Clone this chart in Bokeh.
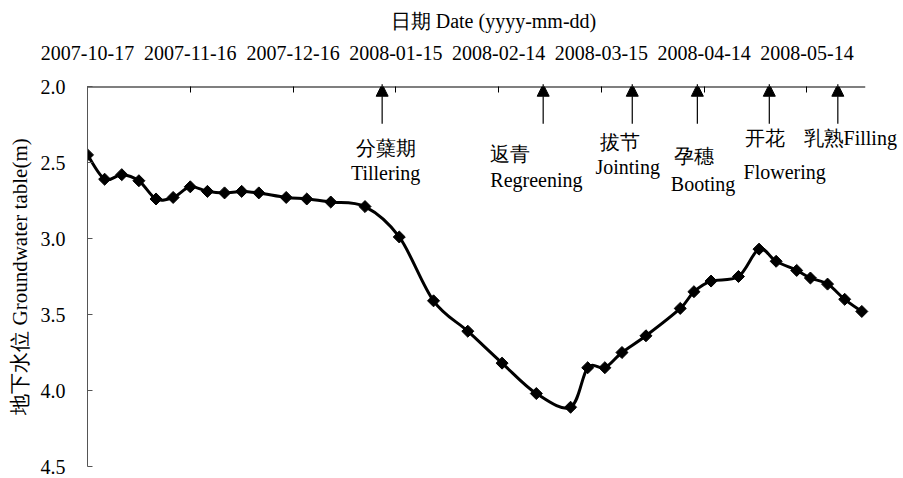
import numpy as np
import pandas as pd
from math import pi
from bokeh.plotting import figure
from bokeh.models import (FixedTicker, DatetimeTickFormatter, NumeralTickFormatter,
                          Range1d, Arrow, NormalHead, Label)
from bokeh.embed import file_html
from bokeh.resources import INLINE

# ---------------- data ----------------
dates = ["2007-10-17", "2007-10-22", "2007-10-27", "2007-11-01", "2007-11-06",
         "2007-11-11", "2007-11-16", "2007-11-21", "2007-11-26", "2007-12-01",
         "2007-12-06", "2007-12-14", "2007-12-20", "2007-12-27", "2008-01-06",
         "2008-01-16", "2008-01-26", "2008-02-05", "2008-02-15", "2008-02-25",
         "2008-03-06", "2008-03-11", "2008-03-16", "2008-03-21", "2008-03-28",
         "2008-04-07", "2008-04-11", "2008-04-16", "2008-04-24", "2008-04-30",
         "2008-05-05", "2008-05-11", "2008-05-15", "2008-05-20", "2008-05-25",
         "2008-05-30"]
depth = [2.45, 2.61, 2.58, 2.62, 2.74,
         2.73, 2.66, 2.69, 2.70, 2.69,
         2.70, 2.73, 2.74, 2.76, 2.79,
         2.99, 3.41, 3.61, 3.82, 4.02,
         4.11, 3.85, 3.85, 3.75, 3.64,
         3.46, 3.35, 3.28, 3.25, 3.07,
         3.15, 3.21, 3.26, 3.30, 3.40,
         3.48]
x_tick_dates = ["2007-10-17", "2007-11-16", "2007-12-16", "2008-01-15",
                "2008-02-14", "2008-03-15", "2008-04-14", "2008-05-14"]
y_ticks = [2.0, 2.5, 3.0, 3.5, 4.0, 4.5]
x_start, x_axis_end = "2007-10-17", "2008-05-31"
stage_dates = ["2008-01-11", "2008-02-27", "2008-03-24", "2008-04-12",
               "2008-05-03", "2008-05-23"]
stage_cn = ["分蘖期", "返青", "拔节", "孕穗", "开花", "乳熟"]
stage_en = ["Tillering", "Regreening", "Jointing", "Booting", "Flowering", "Filling"]
title_x = "日期 Date (yyyy-mm-dd)"
title_y = "地下水位 Groundwater table(m)"

# ---------------- layout (positions only) ----------------
view_end = "2008-06-10"   # room to the right for the last stage label
label_layout = [
    ("2008-01-12", 2.405, "2008-01-12", 2.572, "center"),
    ("2008-02-11 14:00", 2.447, "2008-02-11 14:00", 2.615, "left"),
    ("2008-03-14 12:00", 2.368, "2008-03-13 06:00", 2.530, "left"),
    ("2008-04-05 06:00", 2.458, "2008-04-04 06:00", 2.640, "left"),
    ("2008-04-26", 2.342, "2008-04-25 12:00", 2.563, "left"),
    ("2008-05-13", 2.342, None, None, "left"),
]

SERIF = "Liberation Serif"
FS = "20px"


def ms(d):
    return pd.Timestamp(d).value / 1e6


xs = np.array([ms(d) for d in dates])
ys = np.array(depth, dtype=float)

p = figure(width=902, height=476, output_backend="svg", toolbar_location=None,
           x_axis_type="datetime", x_axis_location="above",
           x_range=Range1d(ms(x_start), ms(view_end)),
           y_range=Range1d(4.5, 2.0),
           min_border_left=87, min_border_right=3,
           min_border_top=86, min_border_bottom=10)
p.outline_line_color = None
p.xgrid.visible = False
p.ygrid.visible = False
p.background_fill_color = "white"
p.border_fill_color = "white"

# top (date) axis
xa = p.xaxis[0]
xa.ticker = FixedTicker(ticks=[ms(d) for d in x_tick_dates])
fmt = "%Y-%m-%d"
xa.formatter = DatetimeTickFormatter(microseconds=fmt, milliseconds=fmt, seconds=fmt,
                                     minsec=fmt, minutes=fmt, hourmin=fmt, hours=fmt,
                                     days=fmt, months=fmt, years=fmt)
xa.axis_label = title_x
xa.axis_label_text_font = SERIF
xa.axis_label_text_font_size = FS
xa.axis_label_text_font_style = "normal"
xa.axis_label_text_color = "black"
xa.axis_label_standoff = 11
xa.major_label_text_font = SERIF
xa.major_label_text_font_size = FS
xa.major_label_text_color = "black"
xa.major_label_standoff = 27
xa.major_tick_in = 6
xa.major_tick_out = 0
xa.minor_tick_in = 0
xa.minor_tick_out = 0
xa.axis_line_color = None
xa.major_tick_line_color = "black"

# the top axis line stops at the end of the date axis
p.segment(x0=[ms(x_start)], y0=[2.0], x1=[ms(x_axis_end)], y1=[2.0],
          line_color="black", line_width=2)

# left (depth) axis
ya = p.yaxis[0]
ya.ticker = FixedTicker(ticks=y_ticks)
ya.formatter = NumeralTickFormatter(format="0.0")
ya.major_label_text_font = SERIF
ya.major_label_text_font_size = FS
ya.major_label_text_color = "black"
ya.major_label_standoff = 22
ya.major_tick_in = 5
ya.major_tick_out = 0
ya.minor_tick_in = 0
ya.minor_tick_out = 0
ya.axis_line_color = "#555555"
ya.major_tick_line_color = "#555555"
ya.axis_label = title_y
ya.axis_label_text_font = SERIF
ya.axis_label_text_font_size = "21px"
ya.axis_label_text_font_style = "normal"
ya.axis_label_text_color = "black"
ya.axis_label_standoff = 6

# smoothed line (cubic Bezier through the data points)
prev_x = np.concatenate([[xs[0]], xs[:-2]])
prev_y = np.concatenate([[ys[0]], ys[:-2]])
next_x = np.concatenate([xs[2:], [xs[-1]]])
next_y = np.concatenate([ys[2:], [ys[-1]]])
x0, y0, x1, y1 = xs[:-1], ys[:-1], xs[1:], ys[1:]
p.bezier(x0=x0, y0=y0, x1=x1, y1=y1,
         cx0=x0 + (x1 - prev_x) / 6, cy0=y0 + (y1 - prev_y) / 6,
         cx1=x1 - (next_x - x0) / 6, cy1=y1 - (next_y - y0) / 6,
         line_color="black", line_width=3)
p.scatter(x=xs, y=ys, marker="square", size=8.5, angle=pi / 4,
          fill_color="black", line_color="black")

# growth stage arrows and labels
for d in stage_dates:
    p.add_layout(Arrow(end=NormalHead(size=12, fill_color="black", line_color="black"),
                       x_start=ms(d), y_start=2.245, x_end=ms(d), y_end=1.985,
                       line_color="black", line_width=1.2))

for cn, en, (cd, cy, ed, ey, al) in zip(stage_cn, stage_en, label_layout):
    if ed is None:
        p.add_layout(Label(x=ms(cd), y=cy, text=cn + en, text_align=al,
                           text_baseline="middle", text_font=SERIF,
                           text_font_size=FS, text_color="black"))
    else:
        p.add_layout(Label(x=ms(cd), y=cy, text=cn, text_align=al,
                           text_baseline="middle", text_font=SERIF,
                           text_font_size=FS, text_color="black"))
        p.add_layout(Label(x=ms(ed), y=ey, text=en, text_align=al,
                           text_baseline="middle", text_font=SERIF,
                           text_font_size=FS, text_color="black"))

open("out.html", "w").write(file_html(p, INLINE))
